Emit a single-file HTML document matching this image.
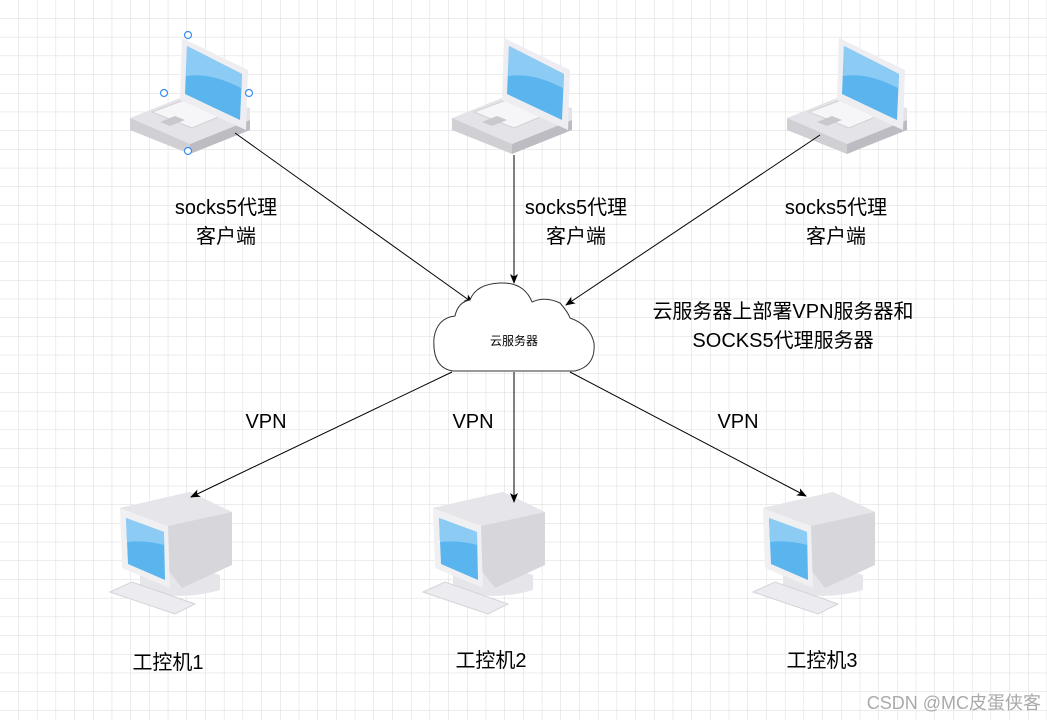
<!DOCTYPE html>
<html><head><meta charset="utf-8"><style>
html,body{margin:0;padding:0;background:#fff}
svg{display:block}
text{font-family:"Liberation Sans","Noto Sans CJK SC",sans-serif;fill:#000}
</style></head><body>
<svg width="1047" height="720" xmlns="http://www.w3.org/2000/svg">
<defs>
<pattern id="g" width="18.7" height="18.7" patternUnits="userSpaceOnUse">
<path d="M18.7 0V18.7H0" fill="none" stroke="#d9d9d9" stroke-width="1"/>
</pattern>
<marker id="a" markerWidth="10" markerHeight="8" refX="9" refY="4" orient="auto" markerUnits="userSpaceOnUse">
<path d="M0 0L10 4L0 8L2.5 4Z" fill="#000"/>
</marker>
<g id="lap">
<path d="M0 82 L60 58 L120 72 L120 84 L60 108 L0 94Z" fill="#e4e4e8"/>
<path d="M0 82 L60 108 L60 118 L0 94Z" fill="#cfcfd4"/>
<path d="M60 108 L120 84 L120 94 L60 118Z" fill="#bcbcc2"/>
<path d="M22 76 L65 60 L105 74 L62 92Z" fill="#f6f6f8" stroke="#d0d0d6"/>
<path d="M30 86 L45 80 L55 84 L40 90Z" fill="#c8c8ce"/>
<path d="M52 2 L118 34 L116 94 L50 64Z" fill="#eeeef2"/>
<path d="M57 10 L112 38 L110 84 L55 58Z" fill="#5ab4ee"/>
<path d="M57 10 L112 38 L111 52 Q80 36 56 40Z" fill="#8ccbf4"/>
</g>
<g id="mon">
<path d="M20 85 Q60 72 100 85 L100 100 Q60 112 20 100Z" fill="#e6e6ea"/>
<path d="M0 18 L70 2 L112 22 L112 75 L62 98 Z" fill="#d6d6db"/>
<path d="M0 18 L70 2 L112 22 L48 36Z" fill="#e6e6ea"/>
<path d="M0 18 L48 36 L50 98 L2 78Z" fill="#f0f0f2"/>
<path d="M6 28 L44 42 L45 90 L8 74Z" fill="#5ab4ee"/>
<path d="M6 28 L44 42 L44 55 Q25 50 7 52Z" fill="#8ccbf4"/>
<path d="M-10 102 L12 92 L75 114 L55 124Z" fill="#ececf0" stroke="#d4d4d8"/>
</g>
</defs>
<rect width="1047" height="720" fill="url(#g)"/>

<use href="#lap" x="130" y="36"/>
<use href="#lap" x="452" y="36"/>
<use href="#lap" x="787" y="36"/>
<g fill="#fff" stroke="#3a8ef0" stroke-width="1.2">
<circle cx="188" cy="35" r="3.5"/><circle cx="164" cy="93" r="3.5"/><circle cx="249" cy="93" r="3.5"/><circle cx="188" cy="151" r="3.5"/>
</g>

<use href="#mon" x="120" y="490"/>
<use href="#mon" x="433" y="490"/>
<use href="#mon" x="763" y="490"/>

<g stroke="#000" stroke-width="1" fill="none" marker-end="url(#a)">
<line x1="235" y1="133" x2="473" y2="303"/>
<line x1="514" y1="155" x2="514" y2="283"/>
<line x1="820" y1="135" x2="566" y2="305"/>
<line x1="452" y1="372" x2="191" y2="497"/>
<line x1="514" y1="372" x2="514" y2="502"/>
<line x1="570" y1="372" x2="806" y2="496"/>
</g>

<path d="M453 371 Q432 368 434 338 Q437 318 455 316 Q458 302 470 300 Q476 284 500 283 Q524 282 532 302 Q545 296 560 303 Q568 312 570 318 Q590 325 594 343 Q596 366 575 371 Z" fill="#fff" stroke="#333" stroke-width="1"/>
<text x="514" y="345" font-size="12" text-anchor="middle">云服务器</text>

<g font-size="20" text-anchor="middle">
<text x="226" y="214">socks5代理</text><text x="226" y="243">客户端</text>
<text x="576" y="214">socks5代理</text><text x="576" y="243">客户端</text>
<text x="836" y="214">socks5代理</text><text x="836" y="243">客户端</text>
<text x="783" y="318">云服务器上部署VPN服务器和</text>
<text x="783" y="347">SOCKS5代理服务器</text>
<text x="266" y="428">VPN</text><text x="473" y="428">VPN</text><text x="738" y="428">VPN</text>
<text x="168" y="669">工控机1</text><text x="491" y="667">工控机2</text><text x="822" y="667">工控机3</text>
</g>
<text x="1041" y="709" font-size="18" text-anchor="end" style="fill:#aaa">CSDN @MC皮蛋侠客</text>
</svg>
</body></html>
